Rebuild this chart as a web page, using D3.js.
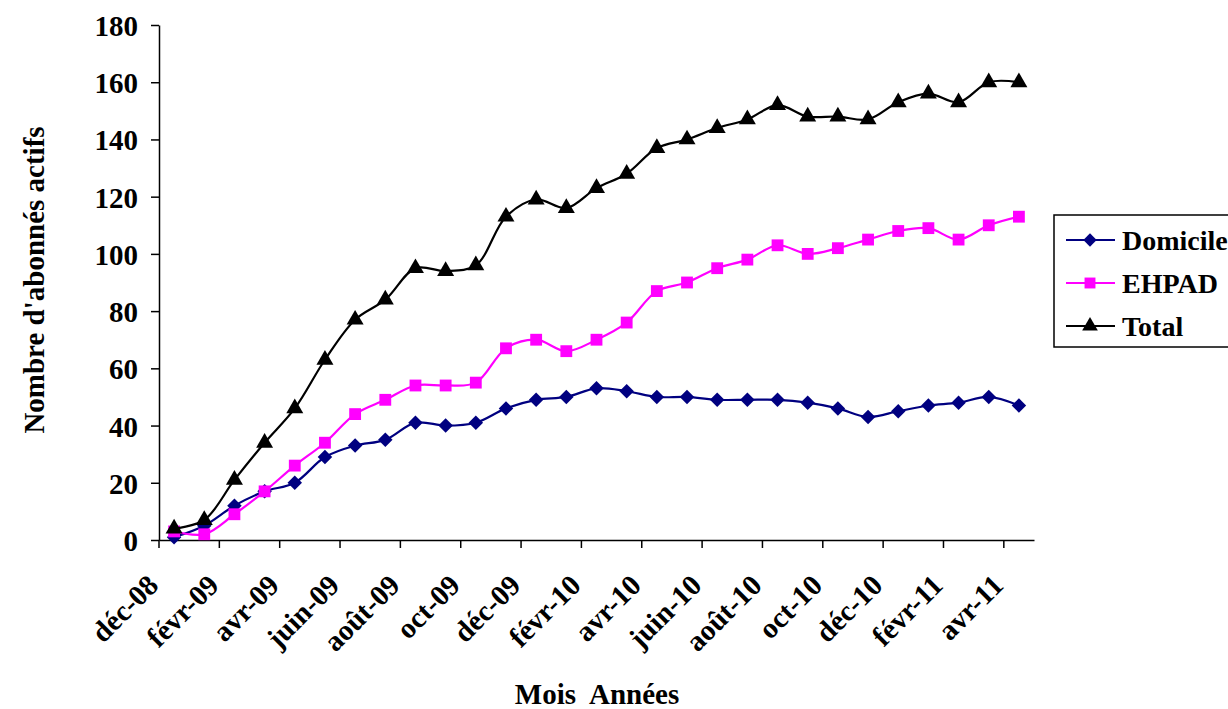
<!DOCTYPE html>
<html>
<head>
<meta charset="utf-8">
<script src="https://cdn.jsdelivr.net/npm/d3@7"></script>
<style>
  body { margin: 0; background: #fff; }
  svg { display: block; }
  text { font-family: "Liberation Serif", "Times New Roman", serif; font-weight: bold; fill: #000; }
</style>
</head>
<body>
<svg id="chart" width="1228" height="709"></svg>
<script>
const categories = ["déc-08","janv-09","févr-09","mars-09","avr-09","mai-09","juin-09","juil-09","août-09","sept-09","oct-09","nov-09","déc-09","janv-10","févr-10","mars-10","avr-10","mai-10","juin-10","juil-10","août-10","sept-10","oct-10","nov-10","déc-10","janv-11","févr-11","mars-11","avr-11"];
const domicile = [1,5,12,17,20,29,33,35,41,40,41,46,49,50,53,52,50,50,49,49,49,48,46,43,45,47,48,50,47];
const ehpad    = [3,2,9,17,26,34,44,49,54,54,55,67,70,66,70,76,87,90,95,98,103,100,102,105,108,109,105,110,113];
const total    = [4,7,21,34,46,63,77,84,95,94,96,113,119,116,123,128,137,140,144,147,152,148,148,147,153,156,153,160,160];
const yTicks = [0,20,40,60,80,100,120,140,160,180];
const seriesNames = ["Domicile","EHPAD","Total"];

const svg = d3.select("#chart");
const plotLeft = 159, plotRight = 1034, plotTop = 25, plotBottom = 540;

const x = d3.scaleBand().domain(categories).range([plotLeft, plotRight]).paddingInner(0).paddingOuter(0);
const bw = x.bandwidth();
const cx = d => x(d) + bw / 2;
const y = d3.scaleLinear().domain([0, 180]).range([plotBottom, plotTop]);

// Y axis
const yAxis = svg.append("g").attr("transform", `translate(${plotLeft},0)`)
  .call(d3.axisLeft(y).tickValues(yTicks).tickSize(8).tickSizeOuter(0).tickPadding(13));
yAxis.select(".domain").attr("stroke", "#000").attr("stroke-width", 1.5);
yAxis.selectAll(".tick line").attr("stroke", "#000").attr("stroke-width", 1.5);
yAxis.selectAll(".tick text").style("font-size", "29px").attr("dy", "0.36em");

// X axis
const evenCats = categories.filter((d, i) => i % 2 === 0);
const xAxis = svg.append("g").attr("transform", `translate(0,${plotBottom})`)
  .call(d3.axisBottom(x).tickValues(evenCats).tickSize(8).tickSizeOuter(0));
xAxis.select(".domain").attr("stroke", "#000").attr("stroke-width", 1.5);
xAxis.selectAll(".tick line").attr("stroke", "#000").attr("stroke-width", 1.5).attr("x1", -bw/2).attr("x2", -bw/2);
xAxis.selectAll(".tick text")
  .style("font-size", "29px")
  .attr("text-anchor", "end")
  .attr("x", null).attr("y", null).attr("dy", null)
  .attr("transform", "translate(-14,47) rotate(-45)");

// Axis titles
svg.append("text").attr("transform", "translate(44,280) rotate(-90)")
  .attr("text-anchor", "middle").style("font-size", "29px").text("Nombre d'abonnés actifs");
svg.append("text").attr("x", 597).attr("y", 704)
  .attr("text-anchor", "middle").style("font-size", "29px")
  .style("white-space", "pre").text("Mois  Années");

// Series
const data = [
  { name: seriesNames[0], values: domicile, color: "#000080", symbol: d3.symbolSquare, size: 105, rot: 45 },
  { name: seriesNames[1], values: ehpad, color: "#FF00FF", symbol: d3.symbolSquare, size: 140, rot: 0 },
  { name: seriesNames[2], values: total, color: "#000000", symbol: d3.symbolTriangle, size: 125, rot: 0 }
];

const line = d3.line()
  .x((d, i) => cx(categories[i]))
  .y(d => y(d))
  .curve(d3.curveCatmullRom.alpha(0.5));

data.forEach(s => {
  const g = svg.append("g");
  g.append("path").datum(s.values).attr("d", line)
    .attr("fill", "none").attr("stroke", s.color).attr("stroke-width", 2.2);
  g.selectAll("path.m").data(s.values).enter().append("path").attr("class", "m")
    .attr("d", d3.symbol().type(s.symbol).size(s.size))
    .attr("transform", (d, i) => `translate(${cx(categories[i])},${y(d)}) rotate(${s.rot})`)
    .attr("fill", s.color);
});

// Legend
const lg = svg.append("g");
lg.append("rect").attr("x", 1054).attr("y", 215).attr("width", 200).attr("height", 132)
  .attr("fill", "#fff").attr("stroke", "#000").attr("stroke-width", 1.5);
data.forEach((s, i) => {
  const ly = 240 + i * 43;
  lg.append("line").attr("x1", 1066).attr("x2", 1115).attr("y1", ly).attr("y2", ly)
    .attr("stroke", s.color).attr("stroke-width", 2.2);
  lg.append("path").attr("d", d3.symbol().type(s.symbol).size(s.size * 0.85))
    .attr("transform", `translate(1090,${ly}) rotate(${s.rot})`).attr("fill", s.color);
  lg.append("text").attr("x", 1122).attr("y", ly + 10).style("font-size", "28px").text(s.name);
});
</script>
</body>
</html>
